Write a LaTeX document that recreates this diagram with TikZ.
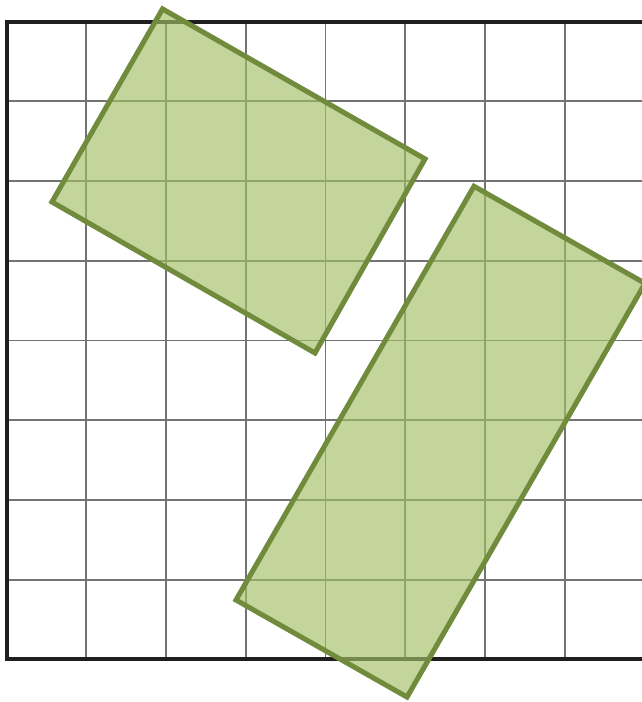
\documentclass[tikz,border=0pt]{standalone}
\definecolor{shapefill}{RGB}{163,192,101}
\definecolor{shapeline}{RGB}{112,139,60}
\tikzset{
  gridline/.style={draw=black!55, line width=0.7pt},
  frameline/.style={draw=black!88, line width=1.4pt},
  greenshape/.style={fill=shapefill, fill opacity=0.65, draw=shapeline, draw opacity=1, line width=1.8pt, line join=miter}
}
\begin{document}
\begin{tikzpicture}
\clip (-0.084,-0.536) rectangle (7.971,8.272);
\fill[white] (-0.084,-0.536) rectangle (7.971,8.272);
% grid
\foreach \i in {1,...,8} {
  \draw[gridline] (\i,0) -- (\i,8);
}
\foreach \j in {1,...,7} {
  \draw[gridline] (0,\j) -- (8.2,\j);
}
\draw[frameline] (8.2,8) -- (0,8) -- (0,0) -- (8.2,0);
% shape 1
\coordinate (a1) at (1.955,8.160);
\coordinate (b1) at (5.249,6.278);
\coordinate (c1) at (3.868,3.843);
\coordinate (d1) at (0.568,5.738);
\path[greenshape] (a1) -- (b1) -- (c1) -- (d1) -- cycle;
% shape 2
\coordinate (a2) at (5.863,5.935);
\coordinate (b2) at (8.009,4.717);
\coordinate (c2) at (5.023,-0.474);
\coordinate (d2) at (2.877,0.744);
\path[greenshape] (a2) -- (b2) -- (c2) -- (d2) -- cycle;
\end{tikzpicture}
\end{document}
